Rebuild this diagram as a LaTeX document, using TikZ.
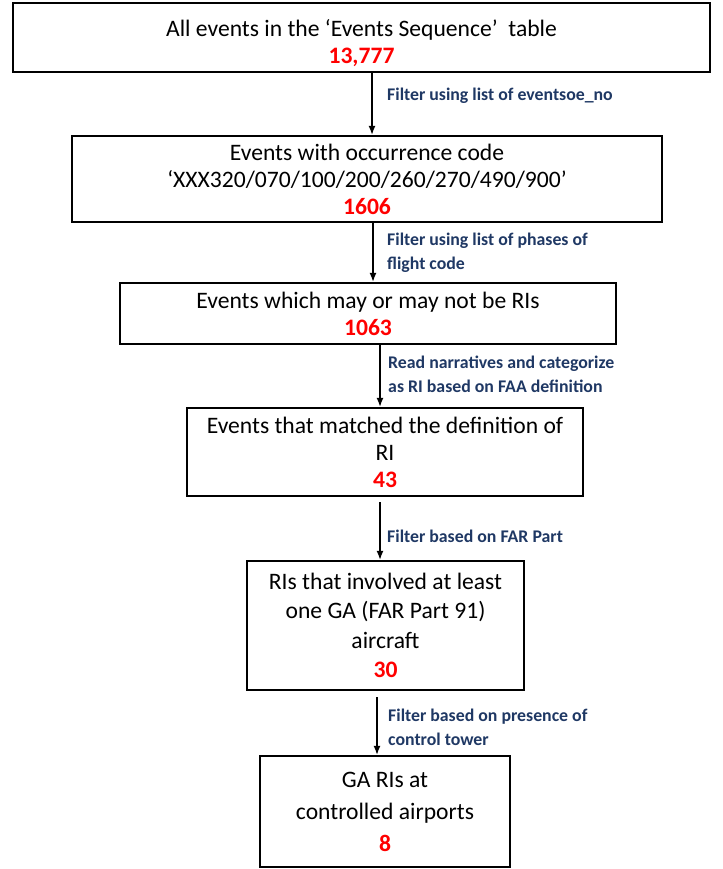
\documentclass[tikz,border=0pt]{standalone}
\usepackage{fontspec}
\setmainfont{Carlito}
\usetikzlibrary{arrows.meta}
\definecolor{countred}{RGB}{255,0,0}
\definecolor{noteblue}{RGB}{31,56,100}
\newcommand{\evcount}[1]{\\{\color{countred}\bfseries #1}}

\begin{document}
\begin{tikzpicture}
    [x=1pt,y=-1pt,
    box/.style={draw,line width=2.4pt,align=center,inner sep=0pt,font=\fontsize{23.6}{27}\selectfont},
    flow/.style={-{Latex[length=9pt,width=7pt]},line width=1.3pt},
    note/.style={anchor=west,align=left,inner sep=0pt,text=noteblue,font=\bfseries\fontsize{17.8}{24}\selectfont}]

\useasboundingbox (0,0) rectangle (722,869);

%boxes, top to bottom
\node[box,minimum width=697pt,minimum height=69pt] (all) at (361.5,37.5)
    {\rule{0pt}{28pt}All events in the ‘Events Sequence’\ \ table\evcount{13,777}};
\node[box,minimum width=590pt,minimum height=86pt] (occ) at (367,179)
    {Events with occurrence code\\‘XXX320/070/100/200/260/270/490/900’\evcount{1606}};
\node[box,minimum width=496pt,minimum height=61pt] (maybe) at (368,313.5)
    {Events which may or may not be RIs\evcount{1063}};
\node[box,minimum width=396pt,minimum height=88pt] (ri) at (385,452)
    {Events that matched the definition of\\RI\evcount{43}};
\node[box,minimum width=277pt,minimum height=129pt,font=\fontsize{23.6}{29.3}\selectfont] (ga) at (385.5,625.5)
    {RIs that involved at least\\one GA (FAR Part 91)\\aircraft\evcount{30}};
\node[box,minimum width=250pt,minimum height=111pt,font=\fontsize{23.6}{32}\selectfont] (ctrl) at (385,811.5)
    {GA RIs at\\controlled airports\evcount{8}};

%arrow columns
\coordinate (c1) at (372,0);
\coordinate (c2) at (373,0);
\coordinate (c3) at (380,0);
\coordinate (c4) at (380,0);
\coordinate (c5) at (377,0);

%connectors
\draw[flow] (c1 |- all.south) -- (c1 |- occ.north);
\draw[flow] (c2 |- occ.south) -- (c2 |- maybe.north);
\draw[flow] (c3 |- maybe.south) -- (c3 |- ri.north);
\draw[flow,shorten <=5pt] (c4 |- ri.south) -- (c4 |- ga.north);
\draw[flow,shorten <=6pt] (c5 |- ga.south) -- (c5 |- ctrl.north);

%filter notes
\node[note] (n1) at (387,96) {Filter using list of eventsoe\_no};
\node[note] (n2) at (387,253) {Filter using list of phases of\\flight code};
\node[note] (n3) at (388,374.5) {Read narratives and categorize\\as RI based on FAA definition};
\node[note] (n4) at (387,536) {Filter based on FAR Part};
\node[note] (n5) at (388,727) {Filter based on presence of\\control tower};

\end{tikzpicture}
\end{document}
